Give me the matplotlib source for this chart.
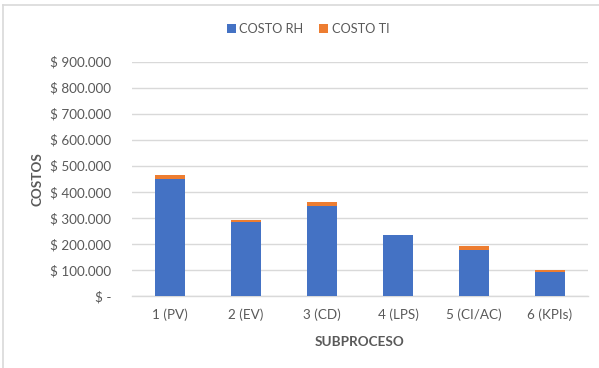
import matplotlib.pyplot as plt
from matplotlib.lines import Line2D
from matplotlib.ticker import FuncFormatter

plt.rcParams['font.family'] = ['Lato', 'DejaVu Sans']

categories = ["1 (PV)", "2 (EV)", "3 (CD)", "4 (LPS)", "5 (CI/AC)", "6 (KPIs)"]
costo_rh = [450000, 285000, 347000, 233000, 177000, 93000]
costo_ti = [15000, 7000, 13000, 2000, 14000, 7000]

BLUE = "#4472C4"
ORANGE = "#ED7D31"
TEXT = "#595959"
GRID = "#D9D9D9"

fig = plt.figure(figsize=(5.99, 3.68), dpi=100)
ax = fig.add_axes([132 / 599, 1 - 296 / 368, (588 - 132) / 599, (296 - 61.5) / 368])

x = list(range(len(categories)))
ax.bar(x, costo_rh, width=0.4, color=BLUE, label="COSTO RH", zorder=3)
ax.bar(x, costo_ti, width=0.4, bottom=costo_rh, color=ORANGE, label="COSTO TI", zorder=3)

ax.set_xlim(-0.5, len(categories) - 0.5)
ax.set_ylim(0, 900000)
ax.set_yticks(range(0, 900001, 100000))
ax.set_xticks(x)
ax.set_xticklabels(categories)


def peso(v, _):
    if v == 0:
        return "$ -"
    return "$ " + f"{int(v):,}".replace(",", ".")


ax.yaxis.set_major_formatter(FuncFormatter(peso))
ax.grid(axis="y", color=GRID, linewidth=1, zorder=0)
for s in ["top", "right", "left"]:
    ax.spines[s].set_visible(False)
ax.spines["bottom"].set_color(GRID)
ax.spines["bottom"].set_linewidth(1)
ax.tick_params(axis="both", length=0, colors=TEXT, labelsize=9.7)
ax.tick_params(axis="y", pad=15)
ax.tick_params(axis="x", pad=9)

ax.set_ylabel("COSTOS", fontsize=9.7, fontweight="bold", color=TEXT, labelpad=5)
ax.set_xlabel("SUBPROCESO", fontsize=9.7, fontweight="bold", color=TEXT, labelpad=11)

fig.legend(loc="center", bbox_to_anchor=(308 / 599, 1 - 29 / 368), ncol=2,
           frameon=False, fontsize=9.2, labelcolor=TEXT, handlelength=0.7,
           handleheight=0.7, handletextpad=0.3, columnspacing=1.2)

# chart border
fig.add_artist(Line2D([3 / 599, 1], [1 - 5 / 368, 1 - 5 / 368], color=GRID, lw=1.2))
fig.add_artist(Line2D([3 / 599, 3 / 599], [0, 1 - 5 / 368], color=GRID, lw=1.2))

fig.savefig("out.png", dpi=100)
